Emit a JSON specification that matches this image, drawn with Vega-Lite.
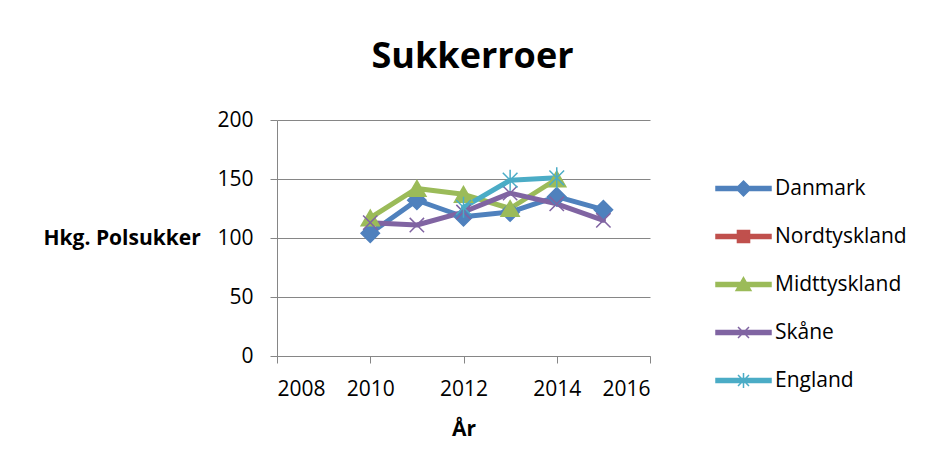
{
  "$schema": "https://vega.github.io/schema/vega-lite/v6.json",
  "width": 373,
  "height": 236,
  "autosize": "none",
  "padding": {"left": 277, "top": 120, "right": 282, "bottom": 112},
  "background": "white",
  "title": {
    "text": "Sukkerroer",
    "font": "Open Sans",
    "fontSize": 36,
    "fontWeight": "bold",
    "color": "#000000",
    "anchor": "middle",
    "dx": 9,
    "offset": 33
  },
  "data": {
    "values": [
      {"series": "Danmark", "year": 2010, "value": 104},
      {"series": "Danmark", "year": 2011, "value": 132},
      {"series": "Danmark", "year": 2012, "value": 118},
      {"series": "Danmark", "year": 2013, "value": 122},
      {"series": "Danmark", "year": 2014, "value": 135},
      {"series": "Danmark", "year": 2015, "value": 124},
      {"series": "Midttyskland", "year": 2010, "value": 117},
      {"series": "Midttyskland", "year": 2011, "value": 142},
      {"series": "Midttyskland", "year": 2012, "value": 137},
      {"series": "Midttyskland", "year": 2013, "value": 125},
      {"series": "Midttyskland", "year": 2014, "value": 150},
      {"series": "Skåne", "year": 2010, "value": 113},
      {"series": "Skåne", "year": 2011, "value": 111},
      {"series": "Skåne", "year": 2012, "value": 122},
      {"series": "Skåne", "year": 2013, "value": 138},
      {"series": "Skåne", "year": 2014, "value": 129},
      {"series": "Skåne", "year": 2015, "value": 115},
      {"series": "England", "year": 2012, "value": 126},
      {"series": "England", "year": 2013, "value": 149},
      {"series": "England", "year": 2014, "value": 151}
    ]
  },
  "encoding": {
    "x": {
      "field": "year",
      "type": "quantitative",
      "scale": {"domain": [2008, 2016], "nice": false, "zero": false},
      "axis": {
        "title": "År",
        "values": [2008, 2010, 2012, 2014, 2016],
        "format": "d",
        "grid": false,
        "domainColor": "#868686",
        "tickColor": "#868686",
        "tickSize": 7,
        "labelFont": "Open Sans",
        "labelFontSize": 21,
        "labelColor": "#000000",
        "labelPadding": 15,
        "titleFont": "Open Sans",
        "titleFontSize": 21,
        "titleFontWeight": "bold",
        "titleColor": "#000000",
        "titlePadding": 19
      }
    },
    "y": {
      "field": "value",
      "type": "quantitative",
      "scale": {"domain": [0, 200], "nice": false},
      "axis": {
        "title": "Hkg. Polsukker",
        "values": [0, 50, 100, 150, 200],
        "grid": true,
        "gridColor": "#868686",
        "gridWidth": 1,
        "domainColor": "#868686",
        "tickColor": "#868686",
        "tickSize": 7,
        "labelFont": "Open Sans",
        "labelFontSize": 21,
        "labelColor": "#000000",
        "labelPadding": 17,
        "titleFont": "Open Sans",
        "titleFontSize": 21,
        "titleFontWeight": "bold",
        "titleColor": "#000000",
        "titleAngle": 0,
        "titleAlign": "left",
        "titleBaseline": "middle",
        "titleX": -234,
        "titleY": 118
      }
    },
    "color": {
      "field": "series",
      "type": "nominal",
      "scale": {
        "domain": ["Danmark", "Nordtyskland", "Midttyskland", "Skåne", "England"],
        "range": ["#4F81BD", "#C0504D", "#9BBB59", "#8064A2", "#4BACC6"]
      },
      "legend": {
        "title": null,
        "orient": "none",
        "legendX": 438,
        "legendY": 40,
        "symbolSize": 3025,
        "symbolStrokeWidth": 1.5,
        "labelFont": "Open Sans",
        "labelFontSize": 21,
        "labelColor": "#000000",
        "labelOffset": 3,
        "rowPadding": 9,
        "encode": {
          "symbols": {
            "update": {
              "shape": {"signal": "datum.value === 'Danmark' ? 'M-1,-0.07 H1 V0.07 H-1 Z M0,-0.27 L0.27,0 L0,0.27 L-0.27,0 Z' : datum.value === 'Nordtyskland' ? 'M-1,-0.07 H1 V0.07 H-1 Z M-0.22,-0.22 H0.22 V0.22 H-0.22 Z' : datum.value === 'Midttyskland' ? 'M-1,-0.07 H1 V0.07 H-1 Z M0,-0.25 L0.27,0.22 L-0.27,0.22 Z' : datum.value === 'Skåne' ? 'M-1,-0.07 H1 V0.07 H-1 Z M-0.2,-0.2 L0.2,0.2 M-0.2,0.2 L0.2,-0.2' : 'M-1,-0.07 H1 V0.07 H-1 Z M-0.2,-0.2 L0.2,0.2 M-0.2,0.2 L0.2,-0.2 M0,-0.27 L0,0.27'"},
              "fill": {"signal": "scale('color', datum.value)"},
              "stroke": {"signal": "scale('color', datum.value)"},
              "strokeWidth": {"value": 1.5},
              "opacity": {"value": 1}
            }
          }
        }
      }
    }
  },
  "layer": [
    {
      "mark": {"type": "line", "strokeWidth": 5, "strokeJoin": "round", "strokeCap": "round"}
    },
    {
      "transform": [{"filter": "datum.series === 'Danmark'"}],
      "mark": {"type": "point", "shape": "diamond", "filled": true, "opacity": 1, "strokeWidth": 1.5, "size": 340, "stroke": "#4F81BD"}
    },
    {
      "transform": [{"filter": "datum.series === 'Midttyskland'"}],
      "mark": {"type": "point", "shape": "triangle-up", "filled": true, "opacity": 1, "strokeWidth": 1.5, "size": 330, "stroke": "#9BBB59"}
    },
    {
      "transform": [{"filter": "datum.series === 'Skåne'"}],
      "mark": {"type": "point", "shape": "M-0.7,-0.7 L0.7,0.7 M-0.7,0.7 L0.7,-0.7", "filled": false, "opacity": 1, "strokeWidth": 1.5, "size": 420}
    },
    {
      "transform": [{"filter": "datum.series === 'England'"}],
      "mark": {"type": "point", "shape": "M-0.7,-0.7 L0.7,0.7 M-0.7,0.7 L0.7,-0.7 M0,-1 L0,1", "filled": false, "opacity": 1, "strokeWidth": 1.5, "size": 440}
    }
  ],
  "config": {
    "view": {"stroke": null},
    "axis": {"domainWidth": 1, "tickWidth": 1}
  }
}
